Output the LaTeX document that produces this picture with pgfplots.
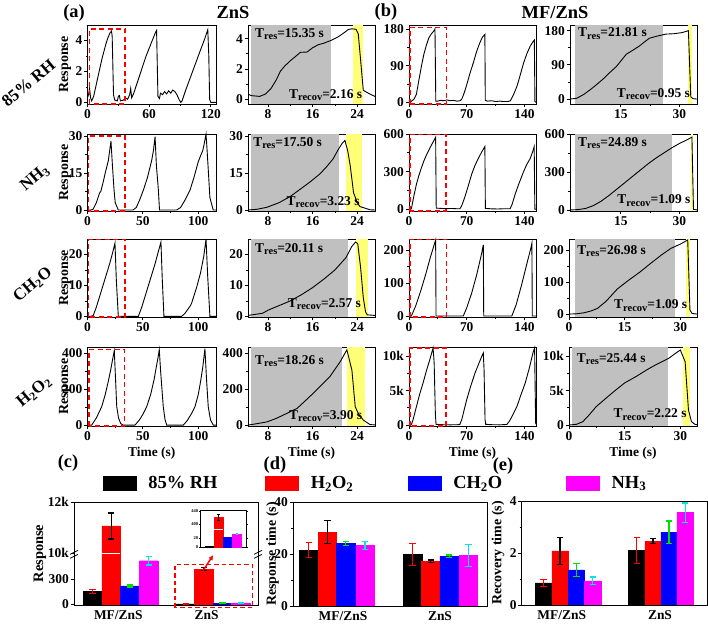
\documentclass[border=0pt]{standalone}
\usepackage{fontspec}
\setmainfont{Liberation Serif}
\usepackage{pgfplots}
\pgfplotsset{compat=1.18}
\usetikzlibrary{arrows.meta}
\definecolor{gbg}{RGB}{192,192,192}
\definecolor{ybg}{RGB}{255,255,120}
\definecolor{egreen}{RGB}{0,225,0}
\definecolor{ecyan}{RGB}{0,230,230}
\definecolor{mag}{RGB}{255,0,255}
\definecolor{rd}{RGB}{255,0,0}
\definecolor{bl}{RGB}{0,0,255}
\newcommand\tlf{\fontsize{13.5}{14}\selectfont\bfseries}
\newcommand\T[2]{T\raisebox{-2.5bp}{\fontsize{10.5}{11}\selectfont #1}=#2 s}
\tikzset{
 tres/.style={anchor=north west, inner sep=0pt, font=\fontsize{13.5}{14}\selectfont\bfseries},
 trec/.style={anchor=south east, inner sep=0pt, font=\fontsize{13.5}{14}\selectfont\bfseries},
}
\pgfplotsset{
 base/.style={scale only axis, anchor=north west, axis line style={line width=0.9pt},
   tick align=outside, xtick pos=lower, ytick pos=left, major tick length=3.5bp,
   minor tick length=2bp, tick style={line width=0.8pt, black},
   ticklabel style={font=\tlf}, /pgf/number format/assume math mode=true,
   xticklabel style={inner sep=1.5bp}, yticklabel style={inner sep=1.5bp}, scaled ticks=false},
 panel/.style={base, minor x tick num=1, minor y tick num=1},
 curve/.style={black, line width=0.9pt, no marks},
 gbox/.style={fill=gbg, draw=none, no marks},
 ybox/.style={fill=ybg, draw=none, no marks},
 rbox/.style={rd, line width=1.4pt, dash pattern=on 5bp off 3.5bp, no marks},
 resp/.style={ylabel={Response}, every axis y label/.style={at={(axis description cs:-0.175,0.5)}, rotate=90, anchor=center, font=\fontsize{14}{15}\selectfont\bfseries}},
 tlab/.style={xlabel={Time (s)}, every axis x label/.style={at={(axis description cs:0.5,0)}, yshift=-27bp, anchor=center, font=\fontsize{13.5}{14}\selectfont\bfseries}},
 bars/.style={base, xtick style={draw=none}, ylabel style={font=\fontsize{14}{15}\selectfont\bfseries}},
 eb/.style={error bars/.cd, y dir=both, y explicit, error bar style={#1, line width=1.2pt}, error mark options={rotate=90, #1, line width=1.2pt, mark size=3.2bp}},
}
\begin{document}
\begin{tikzpicture}
\useasboundingbox (0,0) rectangle (708bp,626bp);
% ================= ROW 1 : 85% RH =================
\begin{axis}[panel, resp, clip=false, at={(87.5bp,601bp)}, width=128.5bp, height=79bp, xmin=0, xmax=125, ymin=-0.1, ymax=5, xtick={0,60,120}, ytick={0,2,4}]
\addplot[curve] coordinates {(0,0.3)(1,0.5)(2,0.9)(3,0.3)(4,0.1)(6,0.4)(8,1.0)(10,1.6)(12,2.2)(14,2.8)(16,3.3)(18,3.8)(20,4.2)(22,4.5)(23.3,4.6)(24,4.3)(25.3,0.5)(26.5,0.15)(29,0.1)(30,0.4)(31,0.45)(32,0.1)(35,0.15)(37,0.3)(39,0.2)(41,0.5)(42,0.9)(43,0.3)(45,0.6)(48,1.2)(51,1.8)(54,2.4)(57,3.0)(60,3.5)(63,4.0)(66,4.5)(67.2,4.65)(68.5,0.4)(70,0.25)(71,0.6)(73,0.5)(75,0.7)(77,0.55)(79,0.75)(81,0.6)(83,0.8)(85,0.7)(87,0.5)(89,0.2)(90.7,0.0)(92,0.1)(95,0.7)(100,1.6)(105,2.5)(110,3.4)(114,4.1)(117,4.7)(118,3.0)(118.8,0.2)(120,0)(125,0)};
\addplot[rbox] coordinates {(1.7,-0.1)(1.7,4.75)(36.6,4.75)(36.6,-0.1)} -- cycle;
\end{axis}
\begin{axis}[panel, at={(248bp,601bp)}, width=127bp, height=79bp, xmin=4.4, xmax=27.2, ymin=-0.3, ymax=4.9, xtick={8,16,24}, ytick={0,2,4}]
\addplot[gbox] coordinates {(5.0,-0.3)(5.0,4.9)(19.3,4.9)(19.3,-0.3)} -- cycle;
\addplot[ybox] coordinates {(23.2,-0.3)(23.2,4.9)(25.0,4.9)(25.0,-0.3)} -- cycle;
\addplot[curve] coordinates {(4.4,0.35)(5,0.25)(6.5,0.2)(7.5,0.35)(8.5,0.7)(9.5,1.3)(10.2,1.85)(11,2.2)(12,2.55)(13,2.85)(13.8,3.1)(15,3.12)(16,3.4)(17,3.6)(18,3.7)(19.4,3.9)(20.5,4.1)(21.5,4.35)(22.4,4.6)(23,4.65)(23.8,4.62)(24.2,4.3)(25.1,0.6)(26.3,0.35)(27.2,0.2)};
\node[tres] at (axis description cs:0.055,0.96) {\T{res}{15.35}};
\node[trec] at (axis description cs:0.9,0.04) {\T{recov}{2.16}};
\end{axis}
\begin{axis}[panel, clip=false, at={(409bp,601bp)}, width=127bp, height=79bp, xmin=0, xmax=154, ymin=-4, ymax=190, xtick={0,70,140}, ytick={0,90,180}]
\addplot[curve] coordinates {(0,0)(1,-1)(3,3)(6,8)(9,20)(12,55)(15,88)(18,118)(21,140)(24,158)(27,168)(30,175)(31.5,180)(32.5,3)(35,3)(38,5)(42,4)(46,6)(50,4)(54,5)(58,3)(62,4)(64,8)(66,18)(68,30)(71,50)(74,72)(78,97)(82,125)(86,147)(89,160)(92,167)(92.5,5)(95,3)(100,4)(105,2)(110,3)(115,2)(120,2)(123,4)(127,20)(131,40)(135,68)(139,97)(143,120)(147,138)(150,148)(152,153)(152.7,2)(154,0)};
\addplot[rbox] coordinates {(1,-4)(1,184)(45.5,184)(45.5,-4)} -- cycle;
\end{axis}
\begin{axis}[panel, at={(570bp,601bp)}, width=127bp, height=79bp, xmin=2, xmax=34.5, ymin=-13, ymax=195, xtick={15,30}, ytick={0,90,180}]
\addplot[gbox] coordinates {(3.3,-13)(3.3,195)(25.9,195)(25.9,-13)} -- cycle;
\addplot[ybox] coordinates {(32.3,-13)(32.3,195)(33.3,195)(33.3,-13)} -- cycle;
\addplot[curve] coordinates {(2,0)(3.7,2)(5.5,12)(7.1,24)(8.8,38)(10.5,53)(12.2,70)(13.9,86)(15,100)(16.4,118)(18,128)(19.8,140)(21,150)(22.3,160)(24,165)(26.5,171)(28.5,172)(30.7,175)(32.3,180)(32.9,6)(33.5,1)(34.5,0)};
\node[tres] at (axis description cs:0.063,0.97) {\T{res}{21.81}};
\node[trec] at (axis description cs:0.945,0.05) {\T{recov}{0.95}};
\end{axis}
% ================= ROW 2 : NH3 =================
\begin{axis}[panel, resp, clip=false, at={(87.5bp,492bp)}, width=128.5bp, height=77bp, xmin=0, xmax=116, ymin=-0.4, ymax=30.8, xtick={0,50,100}, ytick={0,15,30}]
\addplot[curve] coordinates {(0,0)(3,0)(5,0.3)(8,3)(11,7)(12,7.5)(14,11)(16,15)(18.8,20)(20,24)(21.2,28)(22.5,18)(24,8)(25,3)(27.8,0)(41,0)(44,1)(47,4)(50.4,8)(54,13)(57.9,20)(59.5,24)(61,29.7)(62.2,18)(64,8)(65,0)(80.5,0)(84,1)(88,4)(92.5,8)(96,13)(100,19.6)(103,23)(104,24)(105,26)(107,30.7)(108,24)(110.5,5)(113.5,0)(116,0)};
\addplot[rbox] coordinates {(1,-0.4)(1,30)(34,30)(34,-0.4)} -- cycle;
\end{axis}
\begin{axis}[panel, at={(248bp,492bp)}, width=127bp, height=77bp, xmin=4.4, xmax=27.2, ymin=-0.4, ymax=30.8, xtick={8,16,24}, ytick={0,15,30}]
\addplot[gbox] coordinates {(5.0,-0.4)(5.0,30.8)(20.8,30.8)(20.8,-0.4)} -- cycle;
\addplot[ybox] coordinates {(22.0,-0.4)(22.0,30.8)(24.9,30.8)(24.9,-0.4)} -- cycle;
\addplot[curve] coordinates {(4.4,0)(6,0.3)(7.8,1.1)(10,3)(12,5.5)(13.7,8.3)(15.5,11.3)(17.3,14.6)(18.5,17.5)(19.7,20.8)(20.6,24.5)(21.3,27)(21.8,28.2)(22.3,24)(22.75,18)(23.35,7)(24,3)(24.5,1.4)(26.3,0.1)(27.2,0)};
\node[tres] at (axis description cs:0.04,0.96) {\T{res}{17.50}};
\node[trec] at (axis description cs:0.88,0.04) {\T{recov}{3.23}};
\end{axis}
\begin{axis}[panel, clip=false, at={(409bp,492bp)}, width=127bp, height=77bp, xmin=0, xmax=154, ymin=-13, ymax=600, xtick={0,70,140}, ytick={0,300,600}]
\addplot[curve] coordinates {(0,0)(2,0)(3,8)(6,110)(9,200)(12,270)(15,330)(18,385)(21,430)(24,470)(27,510)(30,545)(32.3,575)(33,10)(38,8)(45,6)(52,7)(58,5)(61.7,5)(64,30)(67.8,100)(72,190)(76,280)(80,350)(84,405)(88,455)(92,500)(92.6,8)(100,4)(108,3)(115,5)(122.6,5)(125,40)(128.7,120)(133,200)(138.9,300)(143,360)(147,405)(150,460)(151.8,500)(152.6,3)(154,0)};
\addplot[rbox] coordinates {(1,-13)(1,595)(45,595)(45,-13)} -- cycle;
\end{axis}
\begin{axis}[panel, at={(570bp,492bp)}, width=127bp, height=77bp, xmin=2, xmax=34.5, ymin=-8, ymax=600, xtick={15,30}, ytick={0,300,600}]
\addplot[gbox] coordinates {(3.3,-8)(3.3,600)(28.1,600)(28.1,-8)} -- cycle;
\addplot[ybox] coordinates {(32.9,-8)(32.9,600)(33.5,600)(33.5,-8)} -- cycle;
\addplot[curve] coordinates {(2,0)(4,3)(6,12)(8,35)(10,70)(12,115)(14,165)(16,215)(18,265)(20,315)(22,365)(24,410)(26,450)(28,490)(30,525)(32,555)(33.2,575)(33.6,5)(34.5,0)};
\node[tres] at (axis description cs:0.063,0.96) {\T{res}{24.89}};
\node[trec] at (axis description cs:0.95,0.06) {\T{recov}{1.09}};
\end{axis}
% ================= ROW 3 : CH2O =================
\begin{axis}[panel, resp, clip=false, at={(87.5bp,387bp)}, width=128.5bp, height=78bp, xmin=0, xmax=116, ymin=-0.2, ymax=25, xtick={0,50,100}, ytick={0,10,20}]
\addplot[curve] coordinates {(0,0)(3,0)(5.2,0.3)(8,3)(11,6.5)(14,10)(17,13.5)(20,17)(23,21)(24.8,23.7)(26,12)(27.8,0)(45.9,0)(49,3)(52,6.5)(55,10)(58,13.5)(61,17)(64,21)(66.3,24)(67.5,12)(69,0)(85,0)(88,1)(91,2.5)(93,3.5)(94,4.3)(96,6.5)(99,10)(102,14)(105,19.5)(107,25)(108.5,13)(110.5,0)(116,0)};
\addplot[rbox] coordinates {(1,-0.2)(1,24.8)(34,24.8)(34,-0.2)} -- cycle;
\end{axis}
\begin{axis}[panel, at={(248bp,387bp)}, width=127bp, height=78bp, xmin=4.4, xmax=27.2, ymin=-0.2, ymax=25, xtick={8,16,24}, ytick={0,10,20}]
\addplot[gbox] coordinates {(5.0,-0.2)(5.0,25)(22.3,25)(22.3,-0.2)} -- cycle;
\addplot[ybox] coordinates {(23.8,-0.2)(23.8,25)(26.0,25)(26.0,-0.2)} -- cycle;
\addplot[curve] coordinates {(4.4,0.3)(7,1)(8,2)(10,3.5)(12,5)(14,7)(16,9.3)(18,12)(20,15)(22,19)(23,22.5)(23.7,24)(24.1,23.5)(24.6,16)(25.1,6)(25.5,1.5)(25.8,0.5)(27.2,0.3)};
\node[tres] at (axis description cs:0.055,0.95) {\T{res}{20.11}};
\node[trec] at (axis description cs:0.89,0.09) {\T{recov}{2.57}};
\end{axis}
\begin{axis}[panel, clip=false, at={(409bp,387bp)}, width=127bp, height=78bp, xmin=0, xmax=154, ymin=-3, ymax=235, xtick={0,70,140}, ytick={0,100,200}]
\addplot[curve] coordinates {(0,0)(2.9,0)(8,30)(14,75)(20,125)(26,180)(32.3,232)(32.8,0)(65.8,0)(70,25)(76,70)(82,125)(88,190)(90.1,217)(90.6,0)(124.7,0)(130,35)(136,90)(142,150)(148,210)(149,222)(149.5,0)(154,0)};
\addplot[rbox] coordinates {(1,-3)(1,234)(45.5,234)(45.5,-3)} -- cycle;
\end{axis}
\begin{axis}[panel, at={(569bp,387bp)}, width=128bp, height=78bp, xmin=0, xmax=34.5, ymin=-9, ymax=234, xtick={0,15,30}, ytick={0,100,200}]
\addplot[gbox] coordinates {(1.6,-9)(1.6,234)(28.5,234)(28.5,-9)} -- cycle;
\addplot[ybox] coordinates {(31.5,-9)(31.5,234)(32.6,234)(32.6,-9)} -- cycle;
\addplot[curve] coordinates {(0,0)(2,1)(4,4)(6,10)(7.7,18)(10,40)(13,78)(16,105)(19,130)(22,158)(25,185)(27.5,205)(30,218)(32,231)(32.6,12)(33.2,2)(34.5,0)};
\node[tres] at (axis description cs:0.063,0.92) {\T{res}{26.98}};
\node[trec] at (axis description cs:0.925,0.07) {\T{recov}{1.09}};
\end{axis}
% ================= ROW 4 : H2O2 =================
\begin{axis}[panel, resp, tlab, clip=false, at={(87.5bp,279bp)}, width=128.5bp, height=79bp, xmin=0, xmax=116, ymin=-5, ymax=435, xtick={0,50,100}, ytick={0,200,400}]
\addplot[curve] coordinates {(0,0)(3.8,0)(8,40)(12.8,102)(16,170)(19,250)(21,310)(22.5,360)(24.2,415)(25,300)(26.4,102)(28,40)(30,8)(32.3,0)(42.9,0)(47,30)(50,60)(53.4,102)(57,170)(60,250)(62,320)(63.5,370)(64.8,420)(66,300)(68.4,102)(70,30)(71.5,0)(86.5,0)(90,25)(94,65)(97,102)(100,170)(102,240)(104,320)(106,425)(107.5,250)(109,102)(111,30)(113.5,0)(116,0)};
\addplot[rbox] coordinates {(1.5,-5)(1.5,420)(33.6,420)(33.6,-5)} -- cycle;
\end{axis}
\begin{axis}[panel, tlab, at={(248bp,279bp)}, width=127bp, height=79bp, xmin=4.4, xmax=27.2, ymin=-5, ymax=435, xtick={8,16,24}, ytick={0,200,400}]
\addplot[gbox] coordinates {(5.0,-5)(5.0,435)(21.25,435)(21.25,-5)} -- cycle;
\addplot[ybox] coordinates {(22.2,-5)(22.2,435)(25.4,435)(25.4,-5)} -- cycle;
\addplot[curve] coordinates {(4.4,0)(6,8)(7.8,18)(9.3,35)(10.75,56)(12,75)(13.2,93)(14.5,130)(16.1,177)(17.5,220)(19.1,270)(20.95,353)(22.15,419)(23.05,307)(23.65,102)(24.2,65)(25.1,28)(26.3,3)(27.2,1)};
\node[tres] at (axis description cs:0.055,0.9) {\T{res}{18.26}};
\node[trec] at (axis description cs:0.9,0.05) {\T{recov}{3.90}};
\end{axis}
\begin{axis}[panel, tlab, clip=false, at={(409bp,279bp)}, width=127bp, height=79bp, xmin=0, xmax=154, ymin=-140, ymax=11300, xtick={0,70,140}, ytick={0,5000,10000}, yticklabels={0,5k,10k}]
\addplot[curve] coordinates {(0,0)(2.9,50)(5,800)(9,2660)(13,4500)(17,6070)(21,7800)(25.2,9460)(29.2,11160)(30.5,9000)(32,1500)(32.8,100)(40,50)(50,30)(60,50)(61.7,100)(64,800)(69.9,3640)(75,5700)(80,7520)(85,9000)(88.2,9940)(90.1,10440)(91,8000)(92.2,800)(93,100)(100,50)(110,30)(118.6,80)(122,600)(126,1500)(130.8,2660)(135.5,4300)(140.9,6070)(146,8300)(150.3,10440)(152.3,11160)(153,5000)(153.6,300)(154,100)};
\addplot[rbox] coordinates {(1,-140)(1,11150)(44.9,11150)(44.9,-140)} -- cycle;
\end{axis}
\begin{axis}[panel, tlab, at={(569bp,279bp)}, width=128bp, height=79bp, xmin=0, xmax=34.5, ymin=-140, ymax=11300, xtick={0,15,30}, ytick={0,5000,10000}, yticklabels={0,5k,10k}]
\addplot[gbox] coordinates {(0.9,-140)(0.9,11300)(26.8,11300)(26.8,-140)} -- cycle;
\addplot[ybox] coordinates {(30.7,-140)(30.7,11300)(32.7,11300)(32.7,-140)} -- cycle;
\addplot[curve] coordinates {(0,0)(2,100)(3.7,480)(5.5,1500)(7.3,2650)(10,3900)(12.6,5070)(15,6100)(18,7000)(21,8000)(23.3,8700)(26.9,9670)(28.5,10300)(30,10870)(31.3,9170)(32.2,2170)(33,500)(34,80)(34.5,50)};
\node[tres] at (axis description cs:0.06,0.92) {\T{res}{25.44}};
\node[trec] at (axis description cs:0.92,0.07) {\T{recov}{2.22}};
\end{axis}
% ================= (c) Response bars (broken axis: lower 0-612, upper 10k-12k scaled) =================
\begin{axis}[bars, clip=false, at={(74bp,124bp)}, width=184bp, height=103bp, xmin=0, xmax=184, ymin=-8, ymax=1228,
  ytick={0,300,612,1228}, yticklabels={0,300,10k,12k}, xtick={44.3,132.7}, xticklabels={MF/ZnS,ZnS},
  ylabel={Response}, every axis y label/.style={at={(axis description cs:-0.185,0.5)}, rotate=90, anchor=center, font=\fontsize{14.5}{15}\selectfont\bfseries},
  legend style={at={(axis description cs:0.158,1.184)}, anchor=west, draw=none, fill=none, inner sep=0pt, outer sep=0pt, legend columns=4,
    font=\fontsize{18.5}{20}\selectfont\bfseries, nodes={inner sep=0pt}, /tikz/every odd column/.append style={column sep=12bp}}]
\addlegendimage{legend image code/.code={\fill[black] (0bp,-7.3bp) rectangle (33bp,7.3bp);}}
\addlegendentry{\makebox[117bp][l]{85\% RH}}
\addlegendimage{legend image code/.code={\fill[rd] (0bp,-7.3bp) rectangle (33bp,7.3bp);}}
\addlegendentry{\makebox[97bp][l]{H\textsubscript{2}O\textsubscript{2}}}
\addlegendimage{legend image code/.code={\fill[bl] (0bp,-7.3bp) rectangle (33bp,7.3bp);}}
\addlegendentry{\makebox[113bp][l]{CH\textsubscript{2}O}}
\addlegendimage{legend image code/.code={\fill[mag] (0bp,-7.3bp) rectangle (33bp,7.3bp);}}
\addlegendentry{NH\textsubscript{3}}
\addplot[forget plot, ybar, bar width=18.7, bar shift=0pt, fill=black, draw=black, eb=rd] coordinates {(18.5,156) +- (0,24) (111.8,5) +- (0,2)};
\addplot[forget plot, ybar, bar width=18.7, bar shift=0pt, fill=rd, draw=rd, eb=black] coordinates {(37.2,940) +- (0,156) (130,420) +- (0,18)};
\addplot[forget plot, ybar, bar width=18.7, bar shift=0pt, fill=bl, draw=bl, eb=egreen] coordinates {(56,220) +- (0,12) (148.5,15) +- (0,5)};
\addplot[forget plot, ybar, bar width=18.7, bar shift=0pt, fill=mag, draw=mag, eb=ecyan] coordinates {(74.8,523) +- (0,50) (167,18) +- (0,6)};
\draw[white, line width=1.3pt] (axis cs:28,612) -- (axis cs:46.4,612);
\draw[line width=0.8pt] ([xshift=-4bp,yshift=-5bp]axis cs:0,612) -- ++(8bp,4bp);
\draw[line width=0.8pt] ([xshift=-4bp,yshift=-1bp]axis cs:0,612) -- ++(8bp,4bp);
\draw[line width=0.8pt] ([xshift=-4bp,yshift=-5bp]axis cs:184,612) -- ++(8bp,4bp);
\draw[line width=0.8pt] ([xshift=-4bp,yshift=-1bp]axis cs:184,612) -- ++(8bp,4bp);
\draw[rd, line width=1.2pt, dash pattern=on 4.5bp off 3bp] (axis cs:101,-41) rectangle (axis cs:178.7,480);
\draw[rd, line width=1.5pt, -{Latex[length=5bp,width=5bp]}] (axis cs:129,404) -- (axis cs:139.3,592);
\end{axis}
% inset
\begin{axis}[base, at={(200.7bp,116bp)}, width=46bp, height=37.3bp, xmin=0, xmax=46, ymin=0, ymax=37.3,
  axis line style={line width=0.5pt}, tick style={line width=0.4pt, black}, major tick length=1.5bp, ytick pos=both,
  axis background/.style={fill=white}, xtick=\empty, ytick={0,9,23.4,36}, yticklabels={0,20,400,440},
  ticklabel style={font=\fontsize{4.5}{5}\selectfont\bfseries}, yticklabel style={inner sep=0.8bp}]
\addplot[ybar, bar width=9, bar shift=0pt, fill=black, draw=black] coordinates {(8.8,0.8)};
\addplot[ybar, bar width=9, bar shift=0pt, fill=rd, draw=rd, error bars/.cd, y dir=both, y explicit, error bar style={black, line width=0.5pt}, error mark options={rotate=90, black, line width=0.5pt, mark size=1.2bp}] coordinates {(17.9,29.7) +- (0,3)};
\addplot[ybar, bar width=9, bar shift=0pt, fill=bl, draw=bl] coordinates {(27.1,10.4)};
\addplot[ybar, bar width=9, bar shift=0pt, fill=mag, draw=mag, error bars/.cd, y dir=both, y explicit, error bar style={ecyan, line width=0.5pt}, error mark options={rotate=90, ecyan, line width=0.5pt, mark size=1.2bp}] coordinates {(36,13.4) +- (0,0.8)};
\draw[white, line width=0.6pt] (axis cs:13.4,17.7) -- (axis cs:22.4,17.7);
\end{axis}
% ================= (d) Response time =================
\begin{axis}[bars, at={(293bp,124bp)}, width=194bp, height=104bp, xmin=0, xmax=194, ymin=0, ymax=40,
  ytick={0,20,40}, minor y tick num=1, xtick={50,147}, xticklabels={MF/ZnS,ZnS},
  ylabel={Response time (s)}, every axis y label/.style={at={(axis description cs:-0.105,0.5)}, rotate=90, anchor=center, font=\fontsize{14}{15}\selectfont\bfseries}]
\addplot[ybar, bar width=18.5, bar shift=0pt, fill=black, draw=black, eb=rd] coordinates {(15.8,21.5) +- (0,3) (119.5,19.8) +- (0,4.3)};
\addplot[ybar, bar width=18.5, bar shift=0pt, fill=rd, draw=rd, eb=black] coordinates {(34.3,28.4) +- (0,4.5) (137.8,17.2) +- (0,0.5)};
\addplot[ybar, bar width=18.5, bar shift=0pt, fill=bl, draw=bl, eb=egreen] coordinates {(52.8,24) +- (0,0.7) (156.2,19.2) +- (0,0.4)};
\addplot[ybar, bar width=18.5, bar shift=0pt, fill=mag, draw=mag, eb=ecyan] coordinates {(72,23.3) +- (0,1.5) (175.3,19.5) +- (0,4.3)};
\end{axis}
% ================= (e) Recovery time =================
\begin{axis}[bars, at={(521.7bp,125bp)}, width=185.3bp, height=104bp, xmin=0, xmax=185.3, ymin=0, ymax=4,
  ytick={0,2,4}, minor y tick num=1, xtick={40,138.3}, xticklabels={MF/ZnS,ZnS},
  ylabel={Recovery time (s)}, every axis y label/.style={at={(axis description cs:-0.128,0.5)}, rotate=90, anchor=center, font=\fontsize{14}{15}\selectfont\bfseries}]
\addplot[ybar, bar width=16.5, bar shift=0pt, fill=black, draw=black, eb=rd] coordinates {(21.6,0.85) +- (0,0.13) (115,2.1) +- (0,0.5)};
\addplot[ybar, bar width=16.5, bar shift=0pt, fill=rd, draw=rd, eb=black] coordinates {(38.3,2.08) +- (0,0.52) (131.3,2.45) +- (0,0.1)};
\addplot[ybar, bar width=16.5, bar shift=0pt, fill=bl, draw=bl, eb=egreen] coordinates {(54.6,1.35) +- (0,0.25) (147.3,2.8) +- (0,0.43)};
\addplot[ybar, bar width=16.5, bar shift=0pt, fill=mag, draw=mag, eb=ecyan] coordinates {(71,0.93) +- (0,0.15) (163.5,3.55) +- (0,0.37)};
\end{axis}
% ================= labels =================
\begin{scope}[every node/.style={font=\fontsize{18.5}{20}\selectfont\bfseries}]
\node at (74bp,612.7bp) {(a)};
\node at (233bp,614bp) {ZnS};
\node at (386bp,613.5bp) {(b)};
\node at (555bp,614bp) {MF/ZnS};
\node at (68bp,163bp) {(c)};
\node at (275bp,161bp) {(d)};
\node at (503bp,160bp) {(e)};
\end{scope}
\begin{scope}[every node/.style={font=\fontsize{17}{19}\selectfont\bfseries, rotate=40}]
\node at (28.5bp,543bp) {85\% RH};
\node at (35bp,448bp) {NH\textsubscript{3}};
\node at (33bp,341bp) {CH\textsubscript{2}O};
\node at (34bp,234bp) {H\textsubscript{2}O\textsubscript{2}};
\end{scope}
\end{tikzpicture}
\end{document}
